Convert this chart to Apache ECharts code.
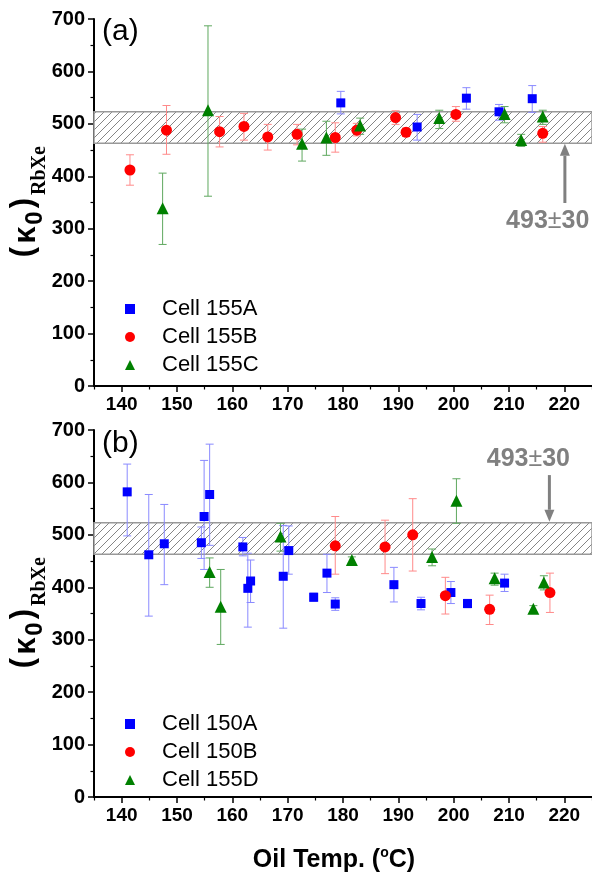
<!DOCTYPE html>
<html>
<head>
<meta charset="utf-8">
<script src="https://cdn.jsdelivr.net/npm/echarts@6/dist/echarts.min.js"></script>
<style>
  html, body { margin: 0; padding: 0; background: #fff; }
  #main { width: 592px; height: 874px; }
</style>
</head>
<body>
<div id="main"></div>
<script>
// each point: [oil temp, kappa0, error low, error high]
// panel (a)
var cell155A = [[179.6, 540, 519, 562], [193.4, 494, 469, 518], [202.3, 549, 528, 569], [208.2, 523, 507, 537], [214.2, 548, 522, 573]];
var cell155B = [[141.5, 412, 383, 441], [148.1, 488, 442, 535], [157.7, 485, 456, 514], [162.1, 495, 469, 520],
  [166.4, 475, 450, 499], [171.7, 480, 460, 499], [178.6, 474, 446, 502], [182.5, 488, 477, 501],
  [189.5, 512, 499, 525], [191.4, 484, 476, 492], [200.4, 518, 505, 533], [216.1, 482, 465, 495]];
var cell155C = [[147.4, 339, 270, 406], [155.6, 526, 362, 687], [172.6, 462, 429, 490], [177.0, 474, 440, 505],
  [183.1, 497, 480, 511], [197.4, 511, 491, 526], [209.2, 519, 502, 533], [212.2, 469, 457, 480], [216.1, 514, 499, 526]];
// panel (b)
var cell150A = [[141.0, 582, 498, 635], [144.9, 462, 345, 577], [147.7, 483, 405, 558], [154.9, 535, 434, 642],
  [154.4, 485, 455, 515], [155.9, 577, 480, 673], [161.9, 477, 460, 495], [162.8, 398, 324, 465],
  [163.3, 412, 371, 452], [169.2, 421, 322, 518], [170.2, 470, 425, 517], [174.7, 381, 373, 389],
  [177.1, 427, 390, 463], [178.6, 368, 356, 380], [189.2, 405, 372, 438], [194.1, 369, 357, 381],
  [199.5, 390, 369, 411], [202.5, 369, 361, 377], [209.2, 408, 392, 425]];
var cell150B = [[178.6, 479, 425, 535], [187.6, 477, 426, 528], [192.6, 500, 431, 569], [198.5, 384, 349, 419],
  [206.5, 358, 329, 385], [217.4, 390, 352, 427]];
var cell155D = [[155.9, 429, 400, 456], [157.9, 363, 291, 434], [168.7, 497, 469, 522], [181.6, 452, 446, 458],
  [196.1, 458, 441, 473], [200.5, 565, 522, 607], [207.4, 417, 404, 427], [214.4, 359, 353, 365], [216.3, 409, 395, 422]];

var xTicks = [140, 150, 160, 170, 180, 190, 200, 210, 220];
var xMinorTicks = [135, 145, 155, 165, 175, 185, 195, 205, 215, 225];
var band = [463, 523]; // 493 +- 30

var chartDom = document.getElementById('main');
var myChart = echarts.init(chartDom);

// diagonal hatch for the band
var hatch = document.createElement('canvas');
hatch.width = 8; hatch.height = 8;
var hc = hatch.getContext('2d');
hc.fillStyle = '#fff';
hc.fillRect(0, 0, 8, 8);
hc.strokeStyle = '#777';
hc.lineWidth = 0.9;
hc.beginPath();
hc.moveTo(0, 8); hc.lineTo(8, 0);
hc.moveTo(-2, 2); hc.lineTo(2, -2);
hc.moveTo(6, 10); hc.lineTo(10, 6);
hc.stroke();

var FONT = 'Liberation Sans, Arial, sans-serif';

function errRender(color) {
  return function (params, api) {
    var x = api.value(0);
    var top = api.coord([x, api.value(3)]);
    var bot = api.coord([x, api.value(2)]);
    var w = 4;
    var st = { stroke: color, lineWidth: 1 };
    return {
      type: 'group',
      children: [
        { type: 'line', shape: { x1: top[0], y1: top[1], x2: bot[0], y2: bot[1] }, style: st },
        { type: 'line', shape: { x1: top[0] - w, y1: top[1], x2: top[0] + w, y2: top[1] }, style: st },
        { type: 'line', shape: { x1: bot[0] - w, y1: bot[1], x2: bot[0] + w, y2: bot[1] }, style: st }
      ]
    };
  };
}

function xAxisPair(grid) {
  return [
    {
      gridIndex: grid, type: 'value', min: 135, max: 225,
      axisLine: { show: true, onZero: false, lineStyle: { color: '#000', width: 2 } },
      axisTick: { show: true, length: 6, customValues: xTicks, lineStyle: { color: '#000', width: 1.5 } },
      axisLabel: { customValues: xTicks, fontSize: 19, fontWeight: 'bold', color: '#000', fontFamily: FONT, margin: 9 },
      splitLine: { show: false }
    },
    {
      gridIndex: grid, type: 'value', min: 135, max: 225, position: 'bottom',
      axisLine: { show: false },
      axisTick: { show: true, length: 3.5, customValues: xMinorTicks, lineStyle: { color: '#000', width: 1.2 } },
      axisLabel: { show: false },
      splitLine: { show: false }
    }
  ];
}

function yAxis(grid) {
  return {
    gridIndex: grid, type: 'value', min: 0, max: 700, interval: 100,
    axisLine: { show: true, lineStyle: { color: '#000', width: 2 } },
    axisTick: { show: true, length: 6, lineStyle: { color: '#000', width: 1.5 } },
    minorTick: { show: true, splitNumber: 2, length: 3.5, lineStyle: { color: '#000', width: 1.2 } },
    axisLabel: { fontSize: 20, fontWeight: 'bold', color: '#000', fontFamily: FONT, margin: 9 },
    splitLine: { show: false }
  };
}

function bandSeries(xi, yi) {
  return {
    type: 'line', xAxisIndex: xi, yAxisIndex: yi, data: [], z: 1, silent: true,
    markArea: {
      silent: true,
      itemStyle: { color: { image: hatch, repeat: 'repeat' }, borderColor: '#999', borderWidth: 1.5 },
      data: [[{ yAxis: band[0] }, { yAxis: band[1] }]]
    }
  };
}

function errSeries(name, data, color, xi, yi) {
  return {
    name: name, type: 'custom', xAxisIndex: xi, yAxisIndex: yi, z: 2, silent: true,
    renderItem: errRender(color), encode: { x: 0, y: 1 }, data: data
  };
}

function pointSeries(name, data, symbol, size, color, xi, yi) {
  return {
    name: name, type: 'scatter', xAxisIndex: xi, yAxisIndex: yi, z: 3,
    symbol: symbol, symbolSize: size, itemStyle: { color: color, opacity: 1 },
    data: data.map(function (d) { return [d[0], d[1]]; })
  };
}

var legendBase = {
  orient: 'vertical', left: 120, itemWidth: 10, itemHeight: 10, itemGap: 0,
  textStyle: { fontSize: 22, color: '#000', fontFamily: FONT, lineHeight: 28, padding: [0, 0, 0, 22] },
  selectedMode: false
};

var option = {
  backgroundColor: '#fff',
  animation: false,
  grid: [
    { left: 94, top: 19, width: 501, height: 367 },
    { left: 94, top: 430, width: 501, height: 367 }
  ],
  xAxis: xAxisPair(0).concat(xAxisPair(1)),
  yAxis: [yAxis(0), yAxis(1)],
  legend: [
    Object.assign({}, legendBase, { top: 290, data: ['Cell 155A', 'Cell 155B', 'Cell 155C'] }),
    Object.assign({}, legendBase, { top: 705, data: ['Cell 150A', 'Cell 150B', 'Cell 155D'] })
  ],
  series: [
    bandSeries(0, 0),
    errSeries('e155A', cell155A, '#8a8aff', 0, 0),
    errSeries('e155B', cell155B, '#ff8a8a', 0, 0),
    errSeries('e155C', cell155C, '#5fa85f', 0, 0),
    pointSeries('Cell 155A', cell155A, 'rect', 9, '#0000ff', 0, 0),
    pointSeries('Cell 155B', cell155B, 'circle', 11, '#ff0000', 0, 0),
    pointSeries('Cell 155C', cell155C, 'triangle', 12, '#008000', 0, 0),
    bandSeries(2, 1),
    errSeries('e150A', cell150A, '#8a8aff', 2, 1),
    errSeries('e150B', cell150B, '#ff8a8a', 2, 1),
    errSeries('e155D', cell155D, '#5fa85f', 2, 1),
    pointSeries('Cell 150A', cell150A, 'rect', 9, '#0000ff', 2, 1),
    pointSeries('Cell 150B', cell150B, 'circle', 11, '#ff0000', 2, 1),
    pointSeries('Cell 155D', cell155D, 'triangle', 12, '#008000', 2, 1)
  ]
};
myChart.setOption(option);

// annotations placed in data coordinates
function px(grid, x, y) {
  return myChart.convertToPixel({ gridIndex: grid }, [x, y]);
}
function arrow(p0, p1) {
  var head = 12, hw = 5;
  var dir = p1[1] > p0[1] ? 1 : -1;
  return [
    { type: 'line', shape: { x1: p0[0], y1: p0[1], x2: p1[0], y2: p1[1] - dir * head }, style: { stroke: '#808080', lineWidth: 3 }, z: 10 },
    { type: 'polygon', shape: { points: [[p1[0], p1[1]], [p1[0] - hw, p1[1] - dir * head], [p1[0] + hw, p1[1] - dir * head]] }, style: { fill: '#808080' }, z: 10 }
  ];
}
function bandText(p) {
  return {
    type: 'text', x: p[0], y: p[1], z: 10,
    style: {
      text: '{b|493}{n|±}{b|30}', align: 'center', verticalAlign: 'middle',
      rich: {
        b: { fontSize: 25, fontWeight: 'bold', fill: '#808080', fontFamily: FONT },
        n: { fontSize: 25, fill: '#808080', fontFamily: FONT }
      }
    }
  };
}
function yTitle(cx, cy) {
  var paren = 'bold 31px ' + FONT;
  return {
    type: 'group', x: cx, y: cy, rotation: Math.PI / 2, z: 10,
    children: [
      { type: 'text', style: { text: '(', x: 7, y: -11, font: paren, fill: '#000', align: 'center', verticalAlign: 'middle' } },
      { type: 'text', style: { text: 'κ', x: 24, y: -8, font: 'bold 31px ' + FONT, fill: '#000', align: 'center', verticalAlign: 'middle' } },
      { type: 'text', style: { text: '0', x: 41, y: 1, font: 'bold 24px ' + FONT, fill: '#000', align: 'center', verticalAlign: 'middle' } },
      { type: 'text', style: { text: ')', x: 56, y: -11, font: paren, fill: '#000', align: 'center', verticalAlign: 'middle' } },
      { type: 'text', style: { text: 'RbXe', x: 64, y: 6, font: 'bold 20px Liberation Serif, Times New Roman, serif', fill: '#000', align: 'left', verticalAlign: 'middle' } }
    ]
  };
}

var graphics = [
  { type: 'text', left: 102, top: 17, style: { text: '(a)', font: '30px ' + FONT, fill: '#000' } },
  { type: 'text', left: 102, top: 429, style: { text: '(b)', font: '30px ' + FONT, fill: '#000' } },
  bandText(px(0, 217.0, 314)),
  bandText(px(1, 213.5, 645)),
  yTitle(34, 259),
  yTitle(34, 670),
  {
    type: 'text', x: 334, y: 860, z: 10,
    style: {
      text: '{t|Oil Temp. (}{s|o}{t|C)}', align: 'center', verticalAlign: 'middle',
      rich: {
        t: { fontSize: 25, fontWeight: 'bold', fill: '#000', fontFamily: FONT, lineHeight: 28 },
        s: { fontSize: 14, fontWeight: 'bold', fill: '#000', fontFamily: FONT, verticalAlign: 'top', lineHeight: 14 }
      }
    }
  }
].concat(arrow(px(0, 220.1, 349), px(0, 220.1, 462)))
 .concat(arrow(px(1, 217.3, 614), px(1, 217.3, 525)));

myChart.setOption({ graphic: graphics });
</script>
</body>
</html>
